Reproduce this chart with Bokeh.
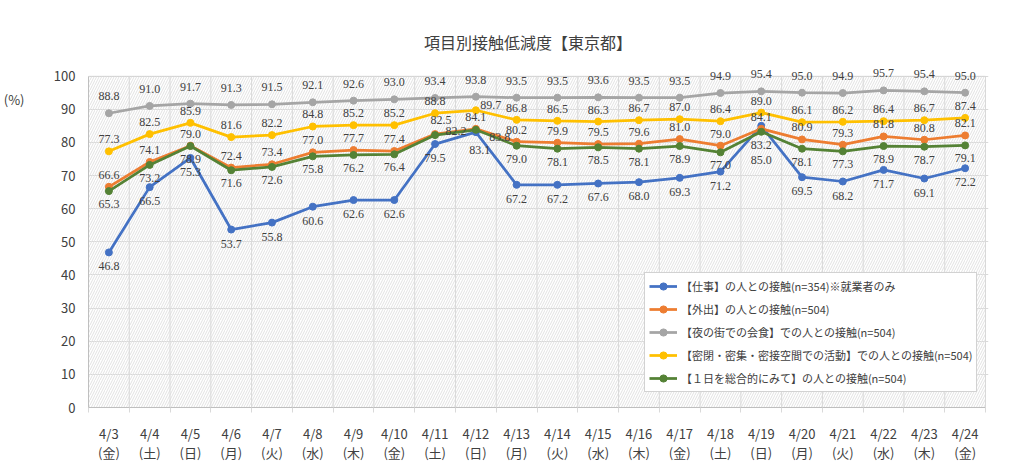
from bokeh.plotting import figure
from bokeh.models import (ColumnDataSource, LabelSet, Label, BoxAnnotation, LinearAxis,
                          FixedTicker, Range1d)
from bokeh.embed import file_html
from bokeh.resources import INLINE

# ---------------- data ----------------
title_text = "項目別接触低減度【東京都】"
unit_text = "(%)"
dates = ["4/3", "4/4", "4/5", "4/6", "4/7", "4/8", "4/9", "4/10", "4/11", "4/12", "4/13",
         "4/14", "4/15", "4/16", "4/17", "4/18", "4/19", "4/20", "4/21", "4/22", "4/23", "4/24"]
weekdays = ["金", "土", "日", "月", "火", "水", "木", "金", "土", "日", "月",
            "火", "水", "木", "金", "土", "日", "月", "火", "水", "木", "金"]
y_ticks = [0, 10, 20, 30, 40, 50, 60, 70, 80, 90, 100]

names = [
    "【仕事】の人との接触(n=354)※就業者のみ",
    "【外出】の人との接触(n=504)",
    "【夜の街での会食】での人との接触(n=504)",
    "【密閉・密集・密接空間での活動】での人との接触(n=504)",
    "【１日を総合的にみて】の人との接触(n=504)",
]
work = [46.8, 66.5, 75.3, 53.7, 55.8, 60.6, 62.6, 62.6, 79.5, 83.1, 67.2,
        67.2, 67.6, 68.0, 69.3, 71.2, 85.0, 69.5, 68.2, 71.7, 69.1, 72.2]
outing = [66.6, 74.1, 79.0, 72.4, 73.4, 77.0, 77.7, 77.4, 82.5, 84.1, 80.2,
          79.9, 79.5, 79.6, 81.0, 79.0, 84.1, 80.9, 79.3, 81.8, 80.8, 82.1]
nightlife = [88.8, 91.0, 91.7, 91.3, 91.5, 92.1, 92.6, 93.0, 93.4, 93.8, 93.5,
             93.5, 93.6, 93.5, 93.5, 94.9, 95.4, 95.0, 94.9, 95.7, 95.4, 95.0]
three_c = [77.3, 82.5, 85.9, 81.6, 82.2, 84.8, 85.2, 85.2, 88.8, 89.7, 86.8,
           86.5, 86.3, 86.7, 87.0, 86.4, 89.0, 86.1, 86.2, 86.4, 86.7, 87.4]
overall = [65.3, 73.2, 78.9, 71.6, 72.6, 75.8, 76.2, 76.4, 82.2, 83.8, 79.0,
           78.1, 78.5, 78.1, 78.9, 77.0, 83.2, 78.1, 77.3, 78.9, 78.7, 79.1]
series = [work, outing, nightlife, three_c, overall]

# ---------------- style / layout ----------------
FONT = "Noto Sans CJK JP"
TXT = "#404040"
GRID = "#d9d9d9"
AXIS = "#bfbfbf"
colors = ["#4472C4", "#ED7D31", "#A5A5A5", "#FFC000", "#548235"]
label_dy = [-14, 12, 17, 12, -13]          # default label offset per series (px, up)
label_adjust = {                             # (series, index): (dx, dy)
    (0, 9): (4, -18),
    (0, 16): (0, -34),
    (1, 8): (6, 14),
    (3, 9): (15, 5),
    (4, 8): (21, 4),
    (4, 9): (24, -7),
}

W, H = 1008, 464
PA_LEFT, PA_RIGHT, PA_TOP, PA_BOTTOM = 83, 985, 76, 409   # plot-area box in pixels
FRAME_RIGHT = 988
Y_MAX = 100.0

n = len(dates)
xs = list(range(n))
px_per_cat = (PA_RIGHT - PA_LEFT) / n
px_per_unit = (PA_BOTTOM - PA_TOP) / Y_MAX
x_end = n - 0.5 + (FRAME_RIGHT - PA_RIGHT) / px_per_cat
y_end = PA_BOTTOM / px_per_unit          # frame reaches the top of the canvas

p = figure(width=W, height=H, x_range=Range1d(-0.5, x_end), y_range=Range1d(0, y_end),
           output_backend="svg", toolbar_location=None,
           min_border_left=PA_LEFT, min_border_right=W - FRAME_RIGHT,
           min_border_top=0, min_border_bottom=H - PA_BOTTOM)
p.title.visible = False
p.background_fill_color = "white"
p.border_fill_color = "white"
p.outline_line_color = None

# hatched plot area with border
p.add_layout(BoxAnnotation(left=-0.5, right=n - 0.5, bottom=0, top=Y_MAX,
                           fill_alpha=0, line_color=AXIS, line_width=1,
                           hatch_pattern="/", hatch_color="#e2e2e2", hatch_scale=5,
                           hatch_weight=1, level="underlay"))

# vertical category separators
bounds_x = [i - 0.5 for i in range(n + 1)]
p.segment(x0=bounds_x, y0=[0] * len(bounds_x), x1=bounds_x, y1=[Y_MAX] * len(bounds_x),
          line_color=GRID, line_width=1)

# x axis
xa = p.xaxis[0]
xa.ticker = FixedTicker(ticks=xs, minor_ticks=bounds_x)
xa.bounds = (-0.5, n - 0.5)
xa.major_label_overrides = {i: f"{d}\n({w})" for i, (d, w) in enumerate(zip(dates, weekdays))}
xa.major_tick_out = 0
xa.major_tick_in = 0
xa.minor_tick_out = 5
xa.minor_tick_in = 0
xa.minor_tick_line_color = GRID
xa.axis_line_color = AXIS
xa.major_label_standoff = 11
xa.major_label_text_font = FONT
xa.major_label_text_font_size = "13px"
xa.major_label_text_color = TXT
xa.major_label_text_line_height = 1.0

# y axis
ya = p.yaxis[0]
ya.ticker = FixedTicker(ticks=y_ticks)
ya.bounds = (0, Y_MAX)
ya.major_tick_out = 0
ya.major_tick_in = 0
ya.minor_tick_line_color = None
ya.axis_line_color = AXIS
ya.major_label_standoff = 13
ya.major_label_text_font = FONT
ya.major_label_text_font_size = "13px"
ya.major_label_text_color = TXT

p.xgrid.grid_line_color = None
p.ygrid.grid_line_color = GRID

# unit label as an outer left axis with a single tick
UNIT_Y = 92.8
ua = LinearAxis(ticker=FixedTicker(ticks=[UNIT_Y]), major_label_overrides={UNIT_Y: unit_text},
                axis_line_color=None, major_tick_line_color=None, minor_tick_line_color=None,
                major_label_standoff=20, major_label_text_font=FONT,
                major_label_text_font_size="13px", major_label_text_color=TXT)
p.add_layout(ua, "left")

# series
for vals, name, col in zip(series, names, colors):
    src = ColumnDataSource(dict(x=xs, y=vals))
    p.line("x", "y", source=src, line_color=col, line_width=2.75, legend_label=name)
    p.scatter("x", "y", source=src, size=7, fill_color=col, line_color=col, legend_label=name)

for si, vals in enumerate(series):
    offs = [label_adjust.get((si, i), (0, label_dy[si])) for i in range(n)]
    lsrc = ColumnDataSource(dict(x=xs, y=vals, t=[f"{v:.1f}" for v in vals],
                                 dx=[o[0] for o in offs], dy=[o[1] for o in offs]))
    p.add_layout(LabelSet(x="x", y="y", text="t", source=lsrc, x_offset="dx", y_offset="dy",
                          text_align="center", text_baseline="middle",
                          text_font=FONT, text_font_size="12px", text_color=TXT))

# chart title
p.add_layout(Label(x=(n - 1) / 2, y=Y_MAX, text=title_text, x_offset=-9, y_offset=34,
                   text_align="center", text_baseline="middle",
                   text_font=FONT, text_font_size="16px", text_color=TXT))

# legend
lg = p.legend[0]
lg.location = (556, 15)
lg.border_line_color = "#a6a6a6"
lg.background_fill_color = "white"
lg.background_fill_alpha = 1
lg.label_text_font = FONT
lg.label_text_font_size = "11px"
lg.label_text_color = TXT
lg.glyph_width = 28
lg.glyph_height = 18
lg.label_height = 18
lg.spacing = 5
lg.padding = 4
lg.margin = 0
lg.label_standoff = 4

open("out.html", "w").write(file_html(p, INLINE))
